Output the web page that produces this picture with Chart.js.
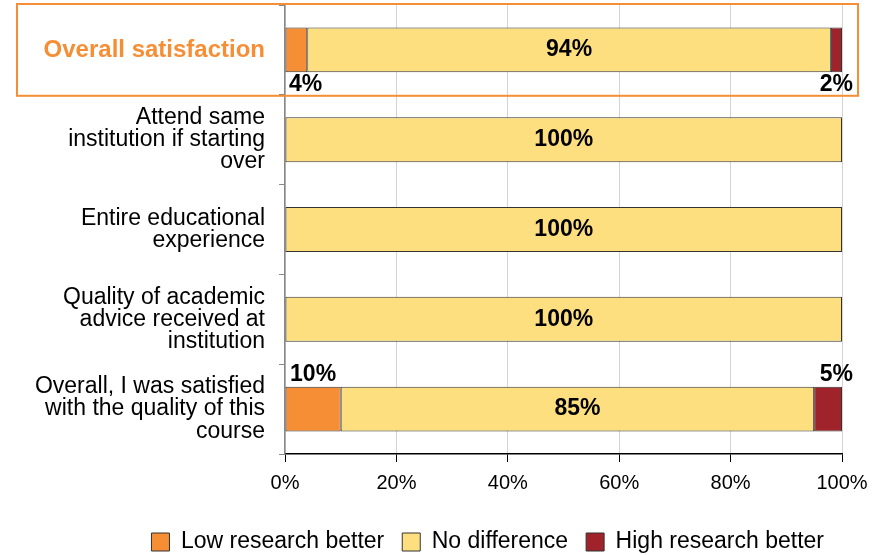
<!DOCTYPE html>
<html>
<head>
<meta charset="utf-8">
<script src="https://cdn.jsdelivr.net/npm/chart.js@4.4.0/dist/chart.umd.min.js"></script>
<style>
  body { margin: 0; background: #fff; }
  #wrap { width: 887px; height: 555px; position: relative; }
</style>
</head>
<body>
<div id="wrap"><canvas id="chart"></canvas></div>
<script>
// categories (multi-line labels, like the original)
var categories = [
    ['Overall satisfaction'],
    ['Attend same', 'institution if starting', 'over'],
    ['Entire educational', 'experience'],
    ['Quality of academic', 'advice received at', 'institution'],
    ['Overall, I was satisfied', 'with the quality of this', 'course']
];
// series in percent
var lowBetter  = [4, 0, 0, 0, 10];
var noDiff     = [94, 100, 100, 100, 85];
var highBetter = [2, 0, 0, 0, 5];
var xTicks = [0, 20, 40, 60, 80, 100];

var FONT = '"Liberation Sans", Arial, sans-serif';
var ORANGE = '#F68E35';

// labels for each segment
const segLabels = {
    id: 'segLabels',
    afterDatasetsDraw(chart) {
        const ctx = chart.ctx;
        const area = chart.chartArea;
        ctx.save();
        ctx.font = 'bold 23px ' + FONT;
        ctx.fillStyle = '#000';
        ctx.textBaseline = 'middle';
        ctx.textAlign = 'center';
        chart.data.datasets.forEach((ds, di) => {
            const meta = chart.getDatasetMeta(di);
            meta.data.forEach((bar, i) => {
                const v = ds.data[i];
                if (!v) return;
                const txt = Math.round(v) + '%';
                const left = Math.min(bar.x, bar.base);
                const right = Math.max(bar.x, bar.base);
                let cx = (left + right) / 2;
                let cy = bar.y;
                if (v < 50) {
                    const w = ctx.measureText(txt).width;
                    if (di == 0) cx = Math.max(cx, area.left + w / 2 + 4);
                    else cx = Math.max(cx, right - w / 2 + 11);
                    if (i == 0) cy = bar.y + bar.height / 2 + 12;
                    else cy = bar.y - bar.height / 2 - 12;
                }
                ctx.fillText(txt, cx, cy);
            });
        });
        ctx.restore();
    }
};

// orange highlight frame around first row
const highlight = {
    id: 'highlight',
    afterDraw(chart) {
        const ctx = chart.ctx;
        const y = chart.scales.y;
        const band = y.getPixelForValue(1) - y.getPixelForValue(0);
        const bottom = y.getPixelForValue(0) + band / 2 + 1;
        ctx.save();
        ctx.strokeStyle = ORANGE;
        ctx.lineWidth = 2;
        ctx.strokeRect(17, 4, 841, bottom - 4);
        ctx.restore();
    }
};

const ctx = document.getElementById('chart');
const chart = new Chart(ctx, {
    type: 'bar',
    data: {
        labels: categories,
        datasets: [{
            label: 'Low research better',
            data: lowBetter,
            backgroundColor: ORANGE,
            borderColor: '#333',
            borderWidth: 1,
            borderSkipped: false
        }, {
            label: 'No difference',
            data: noDiff,
            backgroundColor: '#FDDF80',
            borderColor: '#333',
            borderWidth: 1,
            borderSkipped: false
        }, {
            label: 'High research better',
            data: highBetter,
            backgroundColor: '#A0222A',
            borderColor: '#333',
            borderWidth: 1,
            borderSkipped: false
        }]
    },
    options: {
        indexAxis: 'y',
        responsive: true,
        maintainAspectRatio: false,
        animation: false,
        barPercentage: 0.5,
        categoryPercentage: 1,
        layout: { padding: { top: 5, right: 45, left: 0, bottom: -8.5 } },
        scales: {
            x: {
                stacked: true,
                min: 0,
                max: 100,
                afterBuildTicks: function (scale) {
                    scale.ticks = xTicks.map(v => ({ value: v }));
                },
                ticks: {
                    callback: v => v + '%',
                    color: '#000',
                    font: { family: FONT, size: 20 },
                    padding: 9,
                    maxRotation: 0
                },
                grid: { color: '#d4d4d4', tickLength: 8, tickColor: '#000' },
                border: { color: '#000', width: 1.5 },
                afterFit: function (scale) { scale.height = 58.5; }
            },
            y: {
                stacked: true,
                ticks: {
                    color: ctx => ctx.index == 0 ? ORANGE : '#000',
                    font: ctx => ctx.index == 0
                        ? { family: FONT, size: 24, weight: 'bold', lineHeight: 1.0 }
                        : { family: FONT, size: 23, lineHeight: 0.96 },
                    padding: 14
                },
                grid: { offset: true, drawOnChartArea: false, tickLength: 6, color: '#888' },
                border: { color: '#888', width: 1.5 },
                afterFit: function (scale) {
                    scale.width = 285;
                    scale.paddingTop = 0;
                    scale.paddingBottom = 0;
                }
            }
        },
        plugins: {
            legend: {
                position: 'bottom',
                align: 'end',
                labels: {
                    color: '#000',
                    font: { family: FONT, size: 23 },
                    boxWidth: 18,
                    boxHeight: 18,
                    padding: 18
                }
            },
            tooltip: { enabled: false }
        }
    },
    plugins: [segLabels, highlight]
});
</script>
</body>
</html>
